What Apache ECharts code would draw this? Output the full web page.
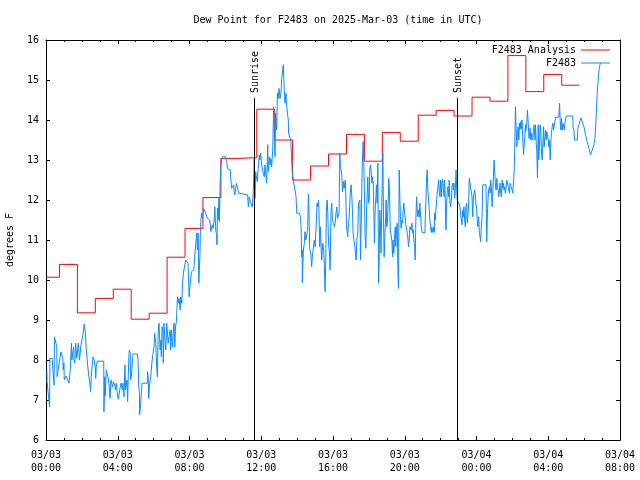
<!DOCTYPE html>
<html>
<head>
<meta charset="utf-8">
<script src="https://cdn.jsdelivr.net/npm/echarts@6/dist/echarts.min.js"></script>
<style>html,body{margin:0;padding:0;background:#fff;}#c{width:640px;height:480px;}</style>
</head>
<body>
<div id="c"></div>
<script>
const FONT = 'DejaVu Sans Mono';
const titleText = 'Dew Point for F2483 on 2025-Mar-03 (time in UTC)';
const yAxisTitle = 'degrees F';
const xTickLabels = ['03/03\n00:00','03/03\n04:00','03/03\n08:00','03/03\n12:00','03/03\n16:00','03/03\n20:00','03/04\n00:00','03/04\n04:00','03/04\n08:00'];
const seriesNames = ['F2483 Analysis', 'F2483'];
const eventNames = ['Sunrise', 'Sunset'];
const eventTimes = [11.6, 22.95];
const eventTop = 14.55;

// Analysis: hourly step values (hours since 03/03 00:00)
const redStarts = [0,0.75,1.75,2.75,3.75,4.75,5.75,6.75,7.75,8.75,9.75,10.75,11.75,12.75,13.75,14.75,15.75,16.75,17.75,18.75,19.75,20.75,21.75,22.75,23.75,24.75,25.75,26.75,27.75,28.75];
const redEnd = 29.75;
const redValues = [10.07,10.39,9.18,9.54,9.77,9.02,9.17,10.57,11.29,12.06,13.04,13.06,14.27,13.5,12.5,12.85,13.15,13.64,12.97,13.69,13.47,14.12,14.24,14.1,14.57,14.47,15.61,14.71,15.14,14.87];

// Observations [hour, degF]
const obs = [
[0.05,7.75],[0.06,7.46],[0.2,6.83],[0.22,8.04],[0.34,8.04],[0.45,7.37],[0.47,8.58],[0.6,8.33],[0.62,7.58],[0.7,7.54],[0.83,8.2],[0.94,8.04],[0.96,7.75],[1.0,7.92],[1.02,7.5],[1.13,7.6],[1.28,7.42],[1.35,7.75],[1.42,8.42],[1.44,8.0],[1.54,8.33],[1.56,8.0],[1.61,7.92],[1.65,8.42],[1.72,8.04],[1.8,8.42],[1.87,8.0],[1.95,8.38],[2.0,8.5],[2.06,8.63],[2.13,8.9],[2.19,8.71],[2.24,8.29],[2.32,7.88],[2.39,7.58],[2.43,7.46],[2.49,7.21],[2.52,7.58],[2.62,8.08],[2.69,8.0],[2.76,7.75],[2.77,7.54],[2.8,7.83],[2.86,7.97],[3.0,7.97],[3.1,7.97],[3.22,7.97],[3.23,6.71],[3.28,7.58],[3.3,7.1],[3.36,7.75],[3.45,7.58],[3.51,7.42],[3.57,7.04],[3.62,7.5],[3.7,7.33],[3.77,7.46],[3.85,7.33],[3.87,7.25],[3.92,7.42],[3.98,7.13],[4.03,7.02],[4.11,7.25],[4.18,7.42],[4.26,7.25],[4.29,7.42],[4.35,7.08],[4.4,7.88],[4.44,7.25],[4.52,7.5],[4.55,6.96],[4.59,7.67],[4.63,8.17],
[4.65,8.25],[4.7,8.17],[4.71,7.5],[4.76,7.58],[4.81,7.92],[4.85,8.15],[5.09,8.15],[5.13,8.04],[5.17,7.33],[5.21,7.17],[5.22,6.63],[5.28,6.92],[5.35,7.42],[5.65,7.42],[5.66,7.71],[5.69,7.58],[5.73,7.04],[5.78,7.42],[5.84,7.58],[5.91,7.96],[5.97,8.17],[6.02,8.33],[6.06,8.67],[6.12,8.42],[6.17,7.83],[6.21,7.58],[6.25,8.67],[6.3,8.92],[6.36,8.25],[6.4,8.5],[6.43,8.08],[6.47,8.83],[6.52,8.67],[6.54,7.92],[6.58,8.92],[6.62,8.58],[6.68,8.25],[6.73,8.92],[6.81,8.42],[6.86,8.58],[6.92,8.75],[6.95,8.25],[6.99,8.75],[7.05,8.33],[7.1,8.75],[7.14,8.92],[7.18,8.33],[7.22,8.83],[7.27,8.96],[7.33,9.58],[7.36,9.42],[7.42,9.54],[7.48,9.25],[7.51,9.58],[7.57,9.42],[7.61,9.92],[7.66,10.17],[7.74,10.38],[7.79,10.5],[7.85,10.54],[7.92,10.42],[7.98,9.58],[8.04,9.92],[8.11,10.21],[8.17,10.25],[8.24,10.25],[8.29,10.58],[8.35,10.92],[8.41,11.18],[8.44,10.75],[8.48,11.17],[8.52,9.92],[8.58,10.58],[8.61,11.33],[8.67,11.67],[8.72,11.54],[8.78,11.79],[8.85,11.75],
[8.86,11.83],[8.87,11.71],[8.95,11.67],[9.0,11.54],[9.08,11.54],[9.13,11.5],[9.18,11.46],[9.19,11.21],[9.27,11.38],[9.32,11.29],[9.38,11.54],[9.41,11.83],[9.47,11.21],[9.52,11.13],[9.53,10.88],[9.56,11.79],[9.6,11.5],[9.64,12.04],[9.67,11.46],[9.71,12.46],[9.75,12.88],[9.82,13.04],[9.88,13.1],[9.94,13.1],[10.01,13.08],[10.07,12.96],[10.12,12.79],[10.2,12.75],[10.27,12.75],[10.31,12.5],[10.35,12.29],[10.4,12.33],[10.46,12.38],[10.49,12.21],[10.53,12.13],[10.57,12.29],[10.62,12.42],[10.68,12.42],[10.74,12.17],[10.77,12.13],[11.24,12.13],[11.28,11.83],[11.33,12.08],[11.39,11.96],[11.44,12.0],[11.5,11.83],[11.56,12.21],[11.61,13.04],[11.65,12.04],[11.69,12.71],[11.74,12.54],[11.78,12.46],[11.83,12.79],[11.89,13.13],[11.93,13.0],[11.97,13.17],[12.02,12.88],[12.08,12.92],[12.11,12.67],[12.17,12.58],[12.21,12.88],[12.26,12.63],[12.3,12.42],[12.36,13.38],[12.39,12.71],[12.45,13.08],[12.49,12.88],[12.54,13.04],[12.58,12.83],[12.64,13.25],[12.69,14.33],[12.73,13.67],[12.77,13.08],[12.8,14.17],[12.86,13.75],[12.9,14.67],[12.95,14.54],[12.99,14.79],[13.05,14.54],[13.1,14.67],[13.14,15.04],[13.19,15.08],[13.23,15.38],[13.27,14.88],[13.32,14.42],[13.38,14.67],[13.41,14.38],
[13.47,14.13],[13.51,14.0],[13.52,13.67],[13.55,13.71],[13.6,13.67],[13.65,13.5],[13.66,13.33],[13.73,12.67],[13.79,12.5],[13.88,12.5],[13.94,12.08],[13.98,11.67],[14.14,11.67],[14.18,11.58],[14.22,11.33],[14.26,10.58],[14.28,10.75],[14.29,9.93],[14.35,10.75],[14.4,10.92],[14.44,11.21],[14.48,11.0],[14.53,11.08],[14.59,11.33],[14.63,12.15],[14.66,11.75],[14.7,10.79],[14.76,10.67],[14.81,10.33],[14.85,10.58],[14.91,10.83],[14.96,11.0],[15.0,10.83],[15.06,11.33],[15.11,11.92],[15.15,11.83],[15.19,12.0],[15.22,11.67],[15.26,10.83],[15.3,11.33],[15.34,10.75],[15.37,10.5],[15.43,10.92],[15.48,10.75],[15.52,10.33],[15.56,9.71],[15.6,10.58],[15.63,11.75],[15.67,12.0],[15.71,11.67],[15.75,10.92],[15.8,10.71],[15.84,10.25],[15.89,11.75],[15.93,11.92],[15.97,11.5],[16.02,11.42],[16.08,11.33],[16.12,11.42],[16.17,11.67],[16.21,11.83],[16.25,11.54],[16.3,11.54],[16.34,11.67],[16.38,13.17],[16.41,12.88],[16.45,12.83],[16.49,12.63],[16.53,12.21],[16.58,12.46],[16.62,12.29],[16.68,12.5],[16.71,12.17],[16.75,11.33],[16.79,11.38],[16.82,11.08],[16.86,11.38],[16.9,11.54],[16.96,12.17],[17.01,12.38],[17.05,12.08],[17.09,11.67],[17.12,11.17],[17.18,11.13],[17.22,10.83],[17.25,10.67],[17.29,10.5],[17.33,11.0],[17.38,11.17],[17.42,11.92],[17.5,12.0],[17.53,10.5],[17.57,11.33],[17.61,12.42],[17.64,13.0],[17.68,13.46],[17.72,12.92],[17.76,12.0],[17.79,11.08],[17.83,10.79],[17.87,11.67],[17.9,12.08],[17.94,12.58],[17.98,11.92],[18.02,12.0],[18.05,12.79],[18.09,12.88],[18.13,12.71],[18.17,12.42],[18.2,12.58],[18.24,12.42],[18.28,11.63],[18.31,10.92],
[18.35,11.75],[18.39,12.08],[18.42,12.38],[18.46,11.92],[18.5,12.92],[18.54,9.92],[18.57,10.42],[18.61,11.75],[18.65,11.33],[18.68,10.67],[18.72,11.83],[18.76,12.83],[18.78,13.17],[18.81,11.75],[18.85,10.58],[18.89,11.08],[18.93,11.5],[18.96,12.0],[19.0,11.33],[19.04,11.5],[19.08,12.0],[19.11,12.54],[19.15,12.17],[19.19,11.25],[19.22,11.17],[19.28,11.0],[19.32,10.58],[19.35,11.0],[19.39,10.67],[19.43,11.04],[19.47,11.33],[19.5,10.83],[19.54,11.25],[19.58,11.42],[19.62,10.21],[19.65,9.79],[19.69,12.75],[19.73,12.0],[19.76,11.58],[19.8,11.29],[19.84,11.5],[19.88,11.42],[19.91,11.75],[19.95,11.92],[19.99,11.67],[20.02,11.58],[20.06,11.38],[20.14,11.17],[20.17,11.08],[20.21,10.83],[20.25,11.0],[20.29,11.33],[20.32,11.38],[20.36,11.25],[20.4,11.42],[20.43,11.17],[20.47,11.25],[20.51,11.0],[20.55,10.83],[20.58,10.5],[20.62,11.5],[20.66,12.08],[20.69,11.83],[20.73,11.58],[20.77,11.75],[20.81,11.58],[20.84,11.92],[20.88,11.63],[20.92,11.33],[20.96,11.19],[21.13,11.19],[21.14,11.5],[21.18,12.0],[21.22,12.58],[21.25,12.75],[21.29,12.25],[21.33,12.0],[21.37,11.75],[21.4,11.5],[21.44,11.33],[21.48,11.19],[21.51,11.33],[21.57,11.19],[21.63,11.33],[21.65,11.19],[21.66,11.67],[21.7,11.5],[21.74,11.75],[21.78,12.0],[21.81,12.17],[21.85,12.33],[21.89,12.5],[21.92,12.25],[21.96,12.08],[22.0,12.5],[22.04,12.08],[22.07,12.42],[22.11,12.52],[22.15,12.25],[22.19,12.08],[22.22,12.5],
[22.26,12.0],[22.27,11.58],[22.3,11.25],[22.33,11.83],[22.37,12.25],[22.41,12.33],[22.45,12.08],[22.48,12.5],[22.52,11.92],[22.56,11.83],[22.6,12.0],[22.63,12.33],[22.67,12.42],[22.71,12.25],[22.74,12.42],[22.78,12.04],[22.82,12.25],[22.86,12.75],[22.89,12.33],[22.93,12.0],[22.97,12.04],[23.04,12.0],[23.08,11.83],[23.12,11.63],[23.15,11.58],[23.19,11.38],[23.23,11.75],[23.27,11.58],[23.3,11.83],[23.34,11.5],[23.38,11.33],[23.41,11.83],[23.45,11.92],[23.49,11.42],[23.53,11.67],[23.56,11.92],[23.6,12.54],[23.71,12.57],[23.75,12.08],[23.79,11.58],[23.82,12.0],[23.86,12.17],[23.9,12.25],[23.94,12.08],[23.97,11.88],[24.01,11.79],[24.05,11.42],[24.08,11.33],[24.12,11.58],[24.16,11.17],[24.2,11.08],[24.23,10.96],[24.27,11.33],[24.31,11.58],[24.35,12.38],[24.53,12.38],[24.57,10.96],[24.61,11.67],[24.64,12.0],[24.68,12.25],[24.72,12.33],[24.76,12.17],[24.79,12.5],[24.83,12.33],[24.87,11.83],[24.9,12.04],[24.94,12.58],[24.98,13.0],[25.02,12.67],[25.05,12.42],[25.09,12.25],[25.13,12.54],[25.17,12.33],[25.2,12.25],[25.24,12.08],[25.28,12.25],[25.31,12.42],[25.35,12.17],[25.39,12.08],[25.43,12.5],[25.46,12.29],[25.5,12.42],[25.54,12.25],[25.57,12.33],[25.61,12.17],[25.65,12.33],[25.69,12.5],[25.72,12.54],[25.76,12.46],[25.8,12.25],[25.84,12.17],[25.87,12.42],[25.91,12.46],[25.95,12.38],[25.98,12.25],[26.02,12.17],[26.06,12.13],[26.1,12.71],[26.13,13.25],[26.17,14.33],[26.21,13.79],[26.25,13.33],[26.28,13.67],[26.32,13.83],[26.36,13.5],[26.39,13.92],[26.43,13.75],[26.47,13.96],[26.51,13.79],[26.54,14.0],[26.58,13.5],[26.62,13.13],[26.65,13.13],[26.69,13.58],
[26.73,13.88],[26.74,13.71],[26.79,13.83],[26.84,14.25],[26.9,14.25],[26.93,13.54],[26.99,13.79],[27.03,13.5],[27.07,13.67],[27.1,13.5],[27.14,13.58],[27.18,13.71],[27.21,13.88],[27.25,13.5],[27.29,13.88],[27.33,13.42],[27.36,13.25],[27.4,12.55],[27.44,13.88],[27.47,13.0],[27.51,13.33],[27.55,13.88],[27.59,13.67],[27.62,13.25],[27.66,13.0],[27.7,13.42],[27.74,13.83],[27.77,13.33],[27.81,13.54],[27.85,13.75],[27.88,13.5],[27.92,13.71],[27.96,13.75],[28.0,13.5],[28.03,13.33],[28.07,13.5],[28.11,13.0],[28.15,13.5],[28.18,13.67],[28.22,13.83],[28.26,13.92],[28.29,13.75],[28.33,13.83],[28.37,13.79],[28.41,14.07],[28.59,14.07],[28.63,14.42],[28.67,13.92],[28.7,13.75],[28.74,14.04],[28.78,13.75],[28.82,13.92],[28.85,13.96],[28.89,13.75],[28.93,13.92],[28.96,14.0],[29.0,14.1],[29.37,14.1],[29.38,13.83],[29.43,13.75],[29.47,13.5],[29.52,13.46],[29.62,13.5],[29.65,13.79],[29.71,13.88],[29.77,13.98],[29.82,14.05],[29.9,14.0],[29.99,13.83],[30.08,13.63],[30.17,13.46],[30.27,13.29],[30.36,13.13],[30.45,13.25],[30.55,13.38],[30.6,13.54],[30.64,13.83],[30.68,14.17],[30.72,14.58],[30.75,14.83],[30.79,15.0],[30.83,15.25],[30.88,15.38],[30.92,15.42]
];

const redData = [];
for (let i = 0; i < redValues.length; i++) {
  const end = i + 1 < redStarts.length ? redStarts[i + 1] : redEnd;
  redData.push([redStarts[i], redValues[i]]);
  redData.push([end, redValues[i]]);
}

const chart = echarts.init(document.getElementById('c'), null, {renderer: 'canvas'});
const txt = {fontFamily: FONT, fontSize: 10, color: '#000'};
const axisCommon = {
  type: 'value',
  axisLine: {show: true, onZero: false, lineStyle: {color: '#000', width: 1}},
  axisTick: {show: true, inside: true, length: 4, lineStyle: {color: '#000'}},
  splitLine: {show: false}
};
const xBase = Object.assign({}, axisCommon, {min: 0, max: 32, interval: 4,
  minorTick: {show: true, splitNumber: 4, length: 2, lineStyle: {color: '#000'}}});
const yBase = Object.assign({}, axisCommon, {min: 6, max: 16, interval: 1});

chart.setOption({
  animation: false,
  backgroundColor: '#fff',
  title: {text: titleText, left: 333, top: 10, textAlign: 'center',
    textStyle: {fontFamily: FONT, fontSize: 10, fontWeight: 'normal', color: '#000'}},
  grid: {left: 46, right: 20, top: 40, bottom: 40, containLabel: false, outerBoundsMode: 'none'},
  legend: {
    data: seriesNames.map(n => ({name: n, icon: 'rect'})), orient: 'vertical', align: 'right', right: 30, top: 44,
    padding: 0, itemWidth: 29, itemHeight: 1, itemGap: 1,
    textStyle: {fontFamily: FONT, fontSize: 10, color: '#000', lineHeight: 12}
  },
  xAxis: [
    Object.assign({}, xBase, {position: 'bottom',
      axisLabel: Object.assign({}, txt, {margin: 9, lineHeight: 13, showMinLabel: true, showMaxLabel: true,
        formatter: v => xTickLabels[Math.round(v / 4)] || ''})}),
    Object.assign({}, xBase, {position: 'top', axisLabel: {show: false}})
  ],
  yAxis: [
    Object.assign({}, yBase, {position: 'left', name: yAxisTitle, nameLocation: 'middle', nameGap: 31,
      nameTextStyle: txt, axisLabel: Object.assign({}, txt, {margin: 7})}),
    Object.assign({}, yBase, {position: 'right', axisLabel: {show: false}})
  ],
  series: [
    {name: seriesNames[0], type: 'line', data: redData, symbol: 'none', showSymbol: false,
      lineStyle: {color: '#ff0000', width: 1}, itemStyle: {color: '#ff0000'}, z: 2},
    {name: seriesNames[1], type: 'line', data: obs, symbol: 'none', showSymbol: false,
      lineStyle: {color: '#0a8cff', width: 1}, itemStyle: {color: '#0a8cff'}, z: 3,
      markLine: {symbol: ['none', 'none'], silent: true, animation: false, label: {show: false},
        lineStyle: {color: '#000', width: 1, type: 'solid'},
        data: eventTimes.map(t => [{coord: [t, eventTop]}, {coord: [t, 6]}])}}
  ]
});

const g = eventTimes.map((t, i) => {
  const p = chart.convertToPixel({xAxisIndex: 0, yAxisIndex: 0}, [t, eventTop]);
  return {type: 'text', x: p[0] + 1, y: p[1] - 5, rotation: Math.PI / 2,
    style: {text: eventNames[i], font: '10px ' + FONT, fill: '#000', textAlign: 'left', textVerticalAlign: 'middle'}};
});
chart.setOption({graphic: g});
</script>
</body>
</html>
